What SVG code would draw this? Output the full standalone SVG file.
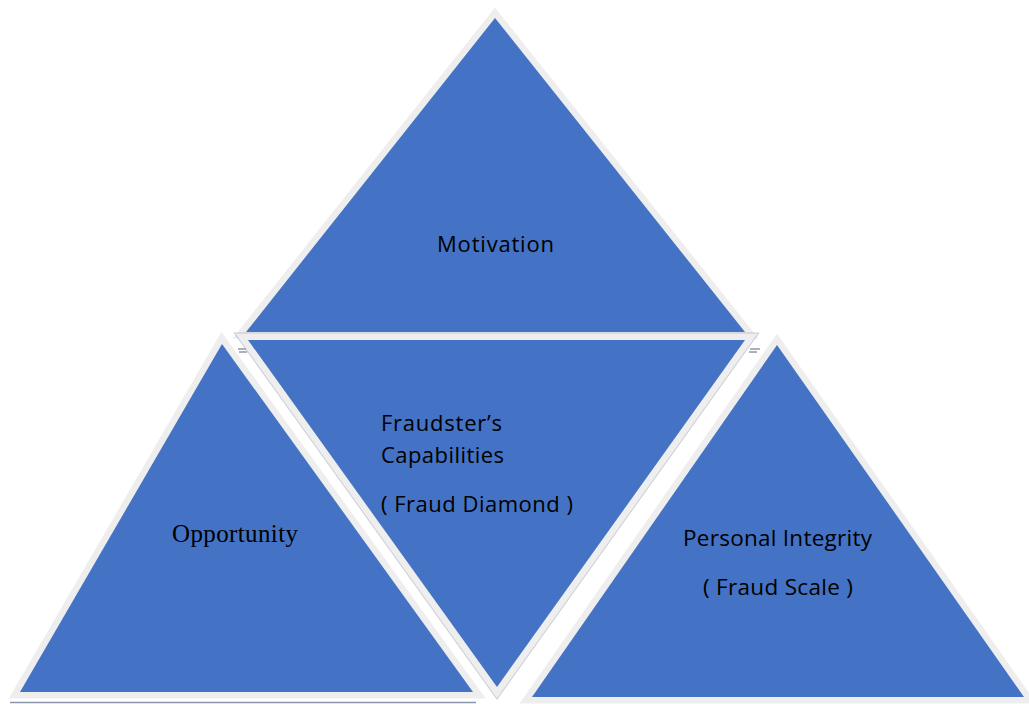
<svg xmlns="http://www.w3.org/2000/svg" width="1029" height="704" viewBox="0 0 1029 704">
  <style>
    .tri { fill: #4472C4; stroke: #EEEEEE; stroke-width: 13; stroke-linejoin: miter; stroke-miterlimit: 10; paint-order: stroke; }
    .shadow { fill: none; stroke: #9EA6B6; stroke-width: 15; stroke-linejoin: miter; stroke-miterlimit: 10; }
    .mark { stroke: #8E97A8; stroke-width: 1.5; }
    .sans { font-family: "Open Sans", "Liberation Sans", Arial, sans-serif; font-size: 22px; fill: #000000; }
    .serif { font-family: "Liberation Serif", "Times New Roman", serif; font-size: 25px; fill: #000000; }
  </style>
  <rect width="1029" height="704" fill="#FFFFFF"/>

  <!-- Top triangle -->
  <g id="motivation">
    <polygon class="tri" points="495,18 745,332 246,332"/>
    <text class="sans" x="437" y="252" textLength="117">Motivation</text>
  </g>

  <!-- Left triangle -->
  <g id="opportunity">
    <line class="mark" x1="10" y1="702.5" x2="476" y2="702.5"/>
    <polygon class="tri" points="222,344 473,692 20,692"/>
    <text class="serif" x="172" y="542" textLength="126">Opportunity</text>
  </g>

  <!-- Middle inverted triangle -->
  <g id="capabilities">
    <polygon class="shadow" points="248,340 745,340 497,687" opacity="0.55"/>
    <line class="mark" x1="238" y1="349" x2="246" y2="349"/>
    <line class="mark" x1="239" y1="352" x2="247" y2="352"/>
    <line class="mark" x1="750" y1="349" x2="760" y2="349"/>
    <line class="mark" x1="749" y1="352" x2="757" y2="352"/>
    <polygon class="tri" points="248,340 745,340 497,687"/>
    <text class="sans" x="381" y="431" textLength="121">Fraudster’s</text>
    <text class="sans" x="381" y="463" textLength="123">Capabilities</text>
    <text class="sans" x="381" y="512" textLength="192">( Fraud Diamond )</text>
  </g>

  <!-- Right triangle -->
  <g id="integrity">
    <polygon class="tri" points="777,345 1024,697 532,697"/>
    <text class="sans" x="683" y="546" textLength="189" style="font-size:22.5px">Personal Integrity</text>
    <text class="sans" x="703" y="595" textLength="150" style="font-size:22.5px">( Fraud Scale )</text>
  </g>

  <!-- No connectors in this figure -->
  <g id="connectors"/>
</svg>
